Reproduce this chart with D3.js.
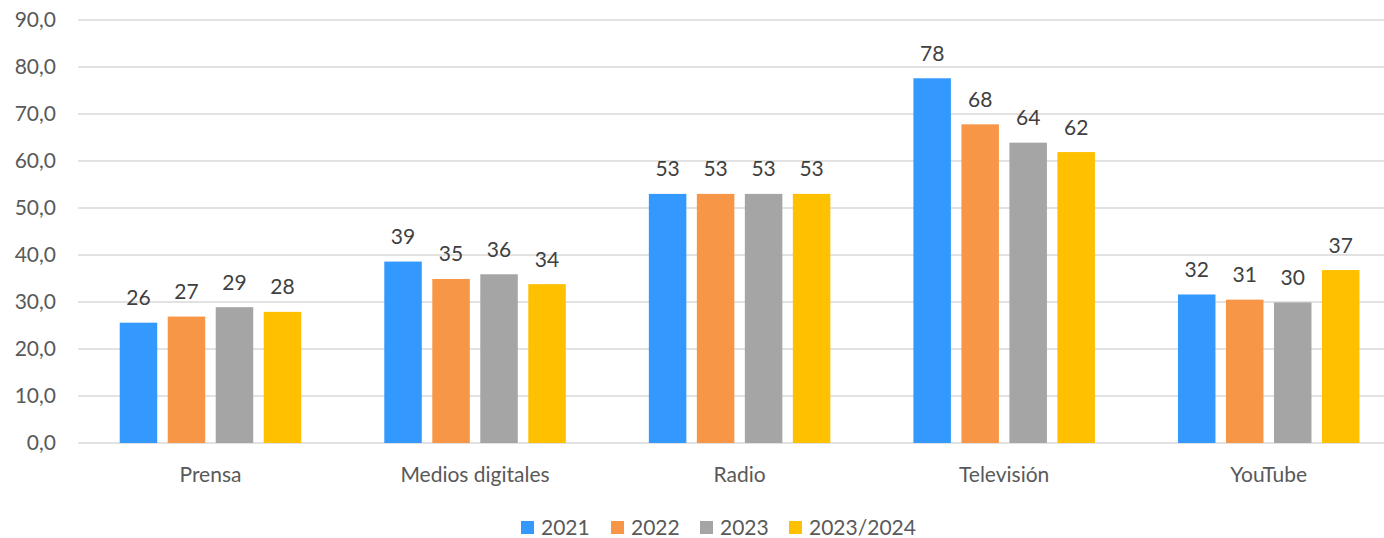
<!DOCTYPE html>
<html><head><meta charset="utf-8">
<script src="https://cdn.jsdelivr.net/npm/d3@7"></script>
<style>body{margin:0;background:#fff}svg{display:block}text{font-family:Lato,"Open Sans",sans-serif;fill:#595959}</style>
</head><body><svg id="c" width="1384" height="538"></svg>
<script>
const categories = ["Prensa","Medios digitales","Radio","Televisión","YouTube"];
const series = ["2021","2022","2023","2023/2024"];
const colors = ["#3399FF","#F79646","#A5A5A5","#FFC000"];
const v2021 = [25.6, 38.6, 53.0, 77.6, 31.6];
const v2022 = [26.9, 34.9, 53.0, 67.8, 30.5];
const v2023 = [28.9, 35.9, 53.0, 63.9, 29.9];
const v2324 = [27.9, 33.8, 53.0, 61.9, 36.8];
const yTicks = [0,10,20,30,40,50,60,70,80,90];

const values = [v2021, v2022, v2023, v2324];
const svg = d3.select("#c");
const pLeft = 78.2, pRight = 1401, pTop = 20, pBottom = 443;
const y = d3.scaleLinear().domain([0,90]).range([pBottom, pTop]);
const x0 = d3.scaleBand().domain(categories).range([pLeft, pRight]);
const x1 = d3.scaleBand().domain(series).range([0, 181.5]).paddingInner(10.5/48);
const off = (x0.bandwidth() - 181.5) / 2;
const fmtTick = d => d3.format(".1f")(d).replace(".", ",");

// gridlines
svg.append("g").selectAll("line").data(yTicks).join("line")
  .attr("x1", pLeft).attr("x2", pRight)
  .attr("y1", d => y(d)).attr("y2", d => y(d))
  .attr("stroke", "#D9D9D9").attr("stroke-width", 1.5);

// y labels
svg.append("g").selectAll("text").data(yTicks).join("text")
  .attr("x", 56).attr("y", d => y(d)).attr("dy", "0.35em")
  .attr("text-anchor", "end").style("font-size", "21px").text(fmtTick);

// bars
series.forEach((s, si) => {
  const g = svg.append("g");
  g.selectAll("rect").data(categories).join("rect")
    .attr("x", (c) => x0(c) + off + x1(s))
    .attr("width", x1.bandwidth())
    .attr("y", (c, i) => y(values[si][i]))
    .attr("height", (c, i) => y(0) - y(values[si][i]))
    .attr("fill", colors[si]);
  g.selectAll("text").data(categories).join("text")
    .attr("x", (c) => x0(c) + off + x1(s) + x1.bandwidth()/2)
    .attr("y", (c, i) => y(values[si][i]) - 17.5)
    .attr("text-anchor", "middle").style("font-size", "21px").style("fill", "#404040")
    .text((c, i) => d3.format(".0f")(values[si][i]));
});

// category labels
svg.append("g").selectAll("text").data(categories).join("text")
  .attr("x", c => x0(c) + x0.bandwidth()/2).attr("y", 482)
  .attr("text-anchor", "middle").style("font-size", "21px").text(c => c);

// legend
const legX = [521, 611, 700, 789];
const lg = svg.append("g");
series.forEach((s, i) => {
  lg.append("rect").attr("x", legX[i]).attr("y", 521).attr("width", 13).attr("height", 13).attr("fill", colors[i]);
  lg.append("text").attr("x", legX[i] + 20).attr("y", 527.5).attr("dy", "0.35em")
    .style("font-size", "21px").text(s);
});
</script></body></html>
